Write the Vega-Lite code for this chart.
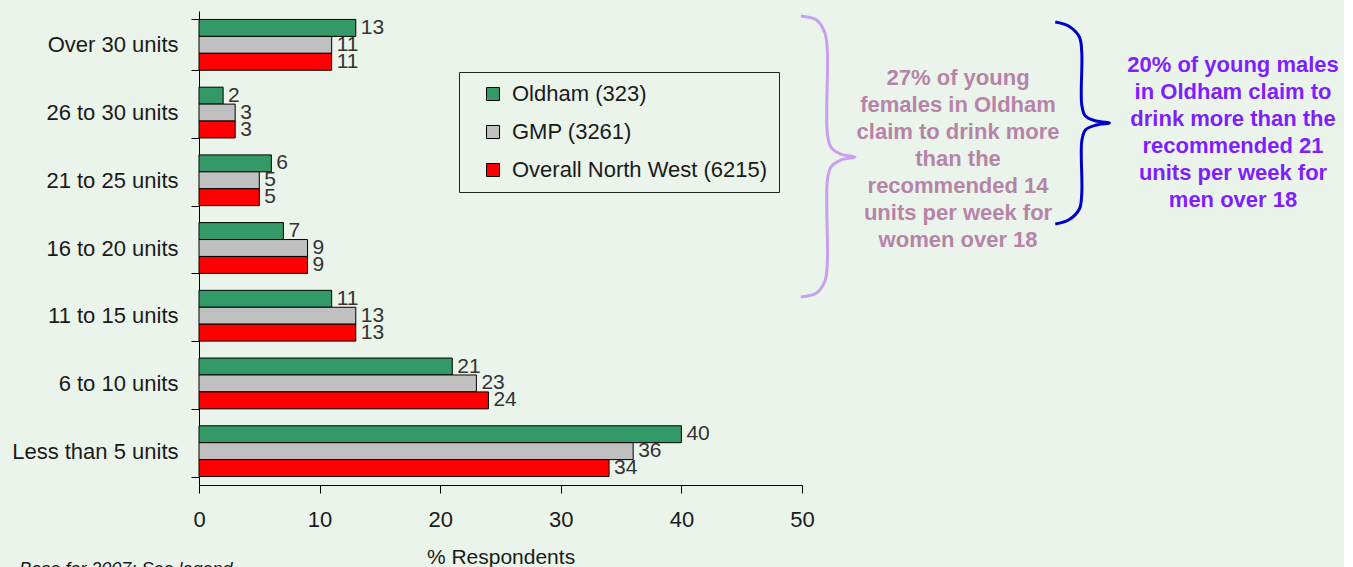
{
  "$schema": "https://vega.github.io/schema/vega-lite/v6.json",
  "width": 603,
  "height": 474,
  "padding": {"left": 11, "top": 0, "right": 5, "bottom": 0},
  "background": "#EBF4EA",
  "config": {
    "font": "Liberation Sans",
    "view": {"stroke": null},
    "axisX": {
      "tickCount": 5,
      "labelFlush": false,
      "titleFontSize": 21,
      "titleFontWeight": "normal",
      "titleColor": "#1a1a1a",
      "titlePadding": 16,
      "labelFontSize": 22,
      "labelColor": "#1a1a1a",
      "tickSize": 8,
      "tickColor": "#000000",
      "domainColor": "#000000",
      "labelPadding": 16,
      "grid": false
    }
  },
  "layer": [
    {
      "data": {
        "values": [
          {"category": "Over 30 units", "series": "Oldham (323)", "value": 13},
          {"category": "Over 30 units", "series": "GMP (3261)", "value": 11},
          {"category": "Over 30 units", "series": "Overall North West (6215)", "value": 11},
          {"category": "26 to 30 units", "series": "Oldham (323)", "value": 2},
          {"category": "26 to 30 units", "series": "GMP (3261)", "value": 3},
          {"category": "26 to 30 units", "series": "Overall North West (6215)", "value": 3},
          {"category": "21 to 25 units", "series": "Oldham (323)", "value": 6},
          {"category": "21 to 25 units", "series": "GMP (3261)", "value": 5},
          {"category": "21 to 25 units", "series": "Overall North West (6215)", "value": 5},
          {"category": "16 to 20 units", "series": "Oldham (323)", "value": 7},
          {"category": "16 to 20 units", "series": "GMP (3261)", "value": 9},
          {"category": "16 to 20 units", "series": "Overall North West (6215)", "value": 9},
          {"category": "11 to 15 units", "series": "Oldham (323)", "value": 11},
          {"category": "11 to 15 units", "series": "GMP (3261)", "value": 13},
          {"category": "11 to 15 units", "series": "Overall North West (6215)", "value": 13},
          {"category": "6 to 10 units", "series": "Oldham (323)", "value": 21},
          {"category": "6 to 10 units", "series": "GMP (3261)", "value": 23},
          {"category": "6 to 10 units", "series": "Overall North West (6215)", "value": 24},
          {"category": "Less than 5 units", "series": "Oldham (323)", "value": 40},
          {"category": "Less than 5 units", "series": "GMP (3261)", "value": 36},
          {"category": "Less than 5 units", "series": "Overall North West (6215)", "value": 34}
        ]
      },
      "encoding": {
        "y": {
          "field": "category",
          "type": "nominal",
          "sort": ["Over 30 units", "26 to 30 units", "21 to 25 units", "16 to 20 units", "11 to 15 units", "6 to 10 units", "Less than 5 units"],
          "scale": {"paddingInner": 0.25, "paddingOuter": 0.125},
          "axis": {
            "title": null,
            "labelFontSize": 22,
            "labelColor": "#1a1a1a",
            "tickSize": 8,
            "tickColor": "#000000",
            "domainColor": "#000000",
            "labelPadding": 13,
            "tickBand": "extent",
            "labelLimit": 300
          }
        },
        "yOffset": {
          "field": "series",
          "type": "nominal",
          "sort": ["Oldham (323)", "GMP (3261)", "Overall North West (6215)"]
        },
        "x": {
          "field": "value",
          "type": "quantitative",
          "title": "% Respondents",
          "scale": {"domain": [0, 50], "nice": false}
        }
      },
      "layer": [
        {
          "mark": {"type": "bar", "stroke": "#000000", "strokeWidth": 1},
          "encoding": {
            "color": {
              "field": "series",
              "type": "nominal",
              "scale": {
                "domain": ["Oldham (323)", "GMP (3261)", "Overall North West (6215)"],
                "range": ["#339966", "#C0C0C0", "#FF0000"]
              },
              "legend": {
                "orient": "none",
                "legendX": 260,
                "legendY": 61,
                "title": null,
                "direction": "vertical",
                "symbolType": "square",
                "symbolSize": 169,
                "symbolStrokeColor": "#000000",
                "symbolStrokeWidth": 1,
                "symbolOpacity": 1,
                "labelFontSize": 22,
                "labelColor": "#1a1a1a",
                "labelOffset": 8,
                "rowPadding": 16,
                "padding": 11,
                "symbolOffset": 12,
                "strokeColor": "#222222",
                "fillColor": "#EBF4EA",
                "labelLimit": 400
              }
            }
          }
        },
        {
          "mark": {"type": "text", "align": "left", "baseline": "middle", "dx": 5, "fontSize": 21, "color": "#333333"},
          "encoding": {"text": {"field": "value", "type": "quantitative"}}
        }
      ]
    },
    {
      "data": {
        "values": [
          {"brace": "female", "i": 0, "bx": 49.9, "by": 0.074},
          {"brace": "female", "i": 1, "bx": 51.2, "by": 0.133},
          {"brace": "female", "i": 2, "bx": 51.9, "by": 0.325},
          {"brace": "female", "i": 3, "bx": 52.1, "by": 0.591},
          {"brace": "female", "i": 4, "bx": 52.1, "by": 1.802},
          {"brace": "female", "i": 5, "bx": 52.4, "by": 2.009},
          {"brace": "female", "i": 6, "bx": 53.2, "by": 2.112},
          {"brace": "female", "i": 7, "bx": 54.4, "by": 2.156},
          {"brace": "female", "i": 8, "bx": 53.2, "by": 2.201},
          {"brace": "female", "i": 9, "bx": 52.4, "by": 2.304},
          {"brace": "female", "i": 10, "bx": 52.1, "by": 2.511},
          {"brace": "female", "i": 11, "bx": 52.1, "by": 3.722},
          {"brace": "female", "i": 12, "bx": 51.9, "by": 3.988},
          {"brace": "female", "i": 13, "bx": 51.2, "by": 4.165},
          {"brace": "female", "i": 14, "bx": 49.9, "by": 4.224},
          {"brace": "male", "i": 0, "bx": 71.0, "by": 0.162},
          {"brace": "male", "i": 1, "bx": 72.1, "by": 0.222},
          {"brace": "male", "i": 2, "bx": 73.0, "by": 0.384},
          {"brace": "male", "i": 3, "bx": 73.2, "by": 0.620},
          {"brace": "male", "i": 4, "bx": 73.2, "by": 1.388},
          {"brace": "male", "i": 5, "bx": 73.5, "by": 1.551},
          {"brace": "male", "i": 6, "bx": 74.4, "by": 1.625},
          {"brace": "male", "i": 7, "bx": 75.5, "by": 1.654},
          {"brace": "male", "i": 8, "bx": 74.4, "by": 1.684},
          {"brace": "male", "i": 9, "bx": 73.5, "by": 1.757},
          {"brace": "male", "i": 10, "bx": 73.2, "by": 1.920},
          {"brace": "male", "i": 11, "bx": 73.2, "by": 2.688},
          {"brace": "male", "i": 12, "bx": 73.0, "by": 2.924},
          {"brace": "male", "i": 13, "bx": 72.1, "by": 3.087},
          {"brace": "male", "i": 14, "bx": 71.0, "by": 3.146}
        ]
      },
      "encoding": {
        "x": {"field": "bx", "type": "quantitative", "title": "% Respondents", "scale": {"domain": [0, 50], "nice": false}},
        "y": {"field": "by", "type": "quantitative", "scale": {"domain": [0, 7], "reverse": true, "nice": false, "zero": false}, "axis": null},
        "order": {"field": "i", "type": "quantitative"}
      },
      "layer": [
        {
          "transform": [{"filter": "datum.brace === 'female'"}],
          "mark": {"type": "line", "interpolate": "catmull-rom", "color": "#C8A0F0", "strokeWidth": 3}
        },
        {
          "transform": [{"filter": "datum.brace === 'male'"}],
          "mark": {"type": "line", "interpolate": "catmull-rom", "color": "#0000CC", "strokeWidth": 3}
        }
      ]
    },
    {
      "data": {
        "values": [
          {"note": "female", "tx": 62.94, "ty": 0.99, "label": "27% of young\nfemales in Oldham\nclaim to drink more\nthan the\nrecommended 14\nunits per week for\nwomen over 18"},
          {"note": "male", "tx": 85.74, "ty": 0.797, "label": "20% of young males\nin Oldham claim to\ndrink more than the\nrecommended 21\nunits per week for\nmen over 18"},
          {"note": "base", "tx": -14.9, "ty": 8.12, "label": "Base for 2007: See legend"}
        ]
      },
      "encoding": {
        "x": {"field": "tx", "type": "quantitative", "title": "% Respondents", "scale": {"domain": [0, 50], "nice": false}},
        "y": {"field": "ty", "type": "quantitative", "scale": {"domain": [0, 7], "reverse": true, "nice": false, "zero": false}, "axis": null},
        "text": {"field": "label", "type": "nominal"}
      },
      "layer": [
        {
          "transform": [{"filter": "datum.note === 'female'"}],
          "mark": {"type": "text", "align": "center", "baseline": "middle", "fontSize": 22, "fontWeight": "bold", "lineHeight": 27, "lineBreak": "\n", "color": "#B684A8"}
        },
        {
          "transform": [{"filter": "datum.note === 'male'"}],
          "mark": {"type": "text", "align": "center", "baseline": "middle", "fontSize": 22, "fontWeight": "bold", "lineHeight": 27, "lineBreak": "\n", "color": "#7F1FFF"}
        },
        {
          "transform": [{"filter": "datum.note === 'base'"}],
          "mark": {"type": "text", "align": "left", "baseline": "top", "fontSize": 18, "fontStyle": "italic", "color": "#1a1a1a"}
        }
      ]
    }
  ],
  "resolve": {"scale": {"y": "independent"}}
}
